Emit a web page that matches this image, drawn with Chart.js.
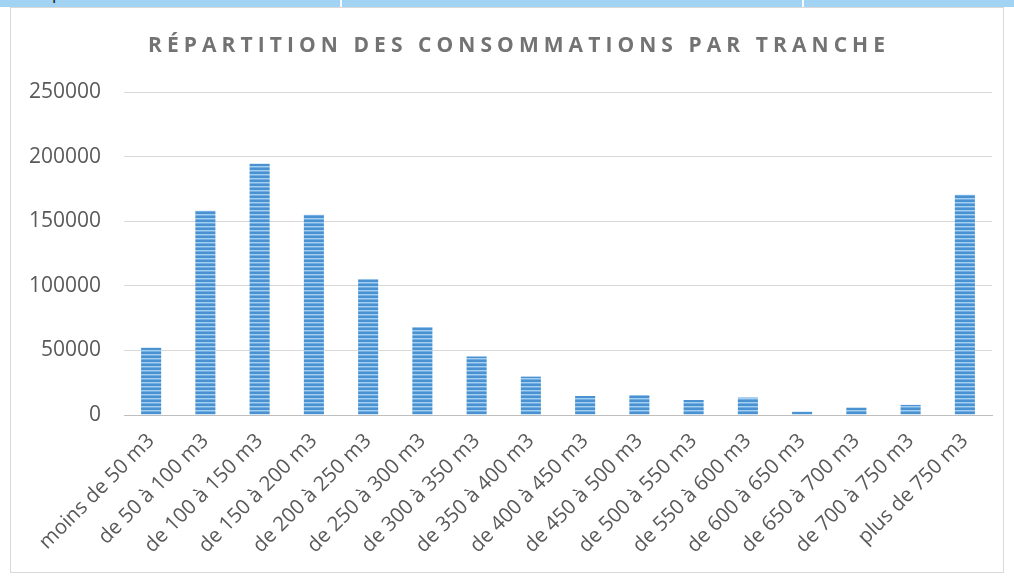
<!DOCTYPE html>
<html>
<head>
<meta charset="utf-8">
<script src="https://cdn.jsdelivr.net/npm/chart.js@4"></script>
<style>
  html, body { margin: 0; padding: 0; background: #ffffff; }
  body { width: 1014px; height: 579px; position: relative; overflow: hidden; font-family: "Open Sans", sans-serif; }
  #strip { position: absolute; left: 0; top: 0; width: 1014px; height: 7px; background: #a3d3f2; overflow: hidden; }
  #strip .sep { position: absolute; top: 0; width: 2px; height: 7px; background: #f4fafe; }
  #strip .txt { position: absolute; top: -19px; font-size: 17px; color: #111; white-space: nowrap; }
  #frame { position: absolute; left: 10px; top: 7px; width: 992px; height: 564px; border: 1px solid #d9d9d9; background: #fff; }
  #title { position: absolute; left: 137px; top: 22px; text-align: left; font-size: 21px; font-weight: 700; color: #737373; white-space: nowrap; }
  #wrap { position: absolute; left: 0; top: 0; width: 992px; height: 564px; }
</style>
</head>
<body>
<div id="strip">
  <div class="txt" style="left:52px;">plus de 750 m3</div>
  <div class="sep" style="left:340px;"></div>
  <div class="sep" style="left:802px;"></div>
</div>
<div id="frame">
  <div id="wrap"><canvas id="c" width="992" height="564"></canvas></div>
  <div id="title">RÉPARTITION DES CONSOMMATIONS PAR TRANCHE</div>
</div>
<script>
// ---- data ----
const chartTitle = "RÉPARTITION DES CONSOMMATIONS PAR TRANCHE";
const categories = [
  "moins de 50 m3", "de 50 à 100 m3", "de 100 à 150 m3", "de 150 à 200 m3",
  "de 200 à 250 m3", "de 250 à 300 m3", "de 300 à 350 m3", "de 350 à 400 m3",
  "de 400 à 450 m3", "de 450 à 500 m3", "de 500 à 550 m3", "de 550 à 600 m3",
  "de 600 à 650 m3", "de 650 à 700 m3", "de 700 à 750 m3", "plus de 750 m3"
];
const consumptions = [
  52000, 158000, 194500, 155000,
  105000, 68000, 45200, 29700,
  14700, 15300, 11600, 13500,
  2500, 5700, 7800, 170500
];
const yMin = 0;
const yMax = 250000;
const yStep = 50000;

// ---- title letter spacing to fit width ----
(function () {
  const t = document.getElementById('title');
  const targetWidth = 737;
  const cv = document.createElement('canvas').getContext('2d');
  cv.font = '700 21px "Open Sans"';
  const w = cv.measureText(chartTitle).width;
  const sp = (targetWidth - w) / (chartTitle.length - 1);
  t.style.letterSpacing = sp.toFixed(2) + 'px';
})();

// ---- striped bar fill ----
function stripePattern() {
  const p = document.createElement('canvas');
  p.width = 4; p.height = 4;
  const g = p.getContext('2d');
  g.fillStyle = '#4a91d1'; g.fillRect(0, 0, 4, 2);
  g.fillStyle = '#a3cff0'; g.fillRect(0, 2, 4, 1);
  g.fillStyle = '#72aee1'; g.fillRect(0, 3, 4, 1);
  const ctx = document.getElementById('c').getContext('2d');
  return ctx.createPattern(p, 'repeat');
}

const fontFamily = '"Open Sans", sans-serif';

new Chart(document.getElementById('c'), {
  type: 'bar',
  data: {
    labels: categories,
    datasets: [{
      data: consumptions,
      backgroundColor: stripePattern(),
      borderWidth: 0,
      categoryPercentage: 1.0,
      barPercentage: 0.37
    }]
  },
  options: {
    responsive: false,
    animation: false,
    layout: { padding: { left: 0, right: 11, top: 84, bottom: 0 } },
    plugins: {
      legend: { display: false },
      title: { display: false },
      tooltip: { enabled: false }
    },
    scales: {
      x: {
        grid: { display: false, drawTicks: false },
        border: { display: true, color: '#bfbfbf', width: 1 },
        ticks: {
          color: '#595959',
          font: { family: fontFamily, size: 20.5 },
          minRotation: 45,
          maxRotation: 45,
          padding: 14,
          autoSkip: false
        },
        afterFit(scale) { scale.height = 157; }
      },
      y: {
        min: yMin,
        max: yMax,
        grid: { color: '#d9d9d9', lineWidth: 1, drawTicks: false },
        border: { display: false },
        ticks: {
          stepSize: yStep,
          color: '#595959',
          font: { family: fontFamily, size: 21 },
          padding: 23,
          callback: (v) => String(v)
        },
        afterFit(scale) { scale.width = 113; }
      }
    }
  }
});
</script>
</body>
</html>
